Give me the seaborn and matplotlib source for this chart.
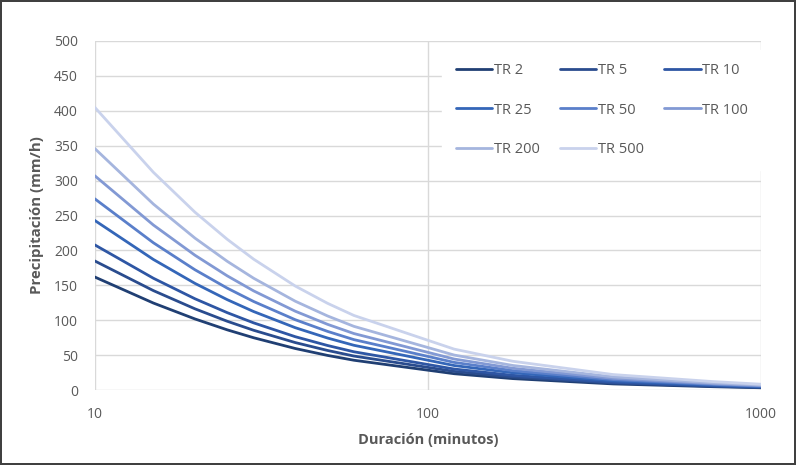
import numpy as np
import pandas as pd
import matplotlib
matplotlib.use("Agg")
import matplotlib.pyplot as plt
from matplotlib.ticker import FixedLocator, FixedFormatter, NullLocator
import seaborn as sns

# duraciones (minutos)
duracion = [10, 15, 20, 25, 30, 40, 50, 60, 120, 180, 360, 720, 1000]

# intensidades (mm/h) por periodo de retorno
tr2 = [162, 124.7, 101.9, 86.3, 75.0, 59.6, 49.7, 42.8, 23.5, 16.5, 8.9, 4.9, 3.4]
tr5 = [185, 142.5, 116.4, 98.6, 85.7, 68.1, 56.8, 48.8, 26.8, 18.9, 10.2, 5.6, 3.9]
tr10 = [208, 160.2, 130.8, 110.9, 96.3, 76.5, 63.9, 54.9, 30.2, 21.2, 11.4, 6.2, 4.4]
tr25 = [243, 187.1, 152.8, 129.5, 112.5, 89.4, 74.6, 64.2, 35.2, 24.8, 13.4, 7.3, 5.1]
tr50 = [274, 211.0, 172.3, 146.0, 126.9, 100.8, 84.1, 72.3, 39.7, 27.9, 15.1, 8.2, 5.8]
tr100 = [307, 236.4, 193.1, 163.6, 142.1, 113.0, 94.2, 81.0, 44.5, 31.3, 16.9, 9.2, 6.4]
tr200 = [346, 266.4, 217.6, 184.4, 160.2, 127.3, 106.2, 91.3, 50.2, 35.3, 19.0, 10.4, 7.3]
tr500 = [405, 311.9, 254.7, 215.9, 187.5, 149.0, 124.3, 106.9, 58.7, 41.3, 22.3, 12.2, 8.5]

series = ["TR 2", "TR 5", "TR 10", "TR 25", "TR 50", "TR 100", "TR 200", "TR 500"]
valores = [tr2, tr5, tr10, tr25, tr50, tr100, tr200, tr500]
colores = ["#203F73", "#2A4C8E", "#2E56A4", "#3466B8", "#5A7FCA",
           "#8299D4", "#A5B5DE", "#C9D2EC"]

df = pd.concat([pd.DataFrame({"Duracion": duracion, "Intensidad": v, "TR": s})
                for s, v in zip(series, valores)])

sns.set_style("white")
plt.rcParams["font.family"] = ["Open Sans", "DejaVu Sans"]

fig = plt.figure(figsize=(7.96, 4.65), dpi=100, edgecolor="#404040", linewidth=1.5)
ax = fig.add_axes([0.119, 0.161, 0.837, 0.751])

sns.lineplot(data=df, x="Duracion", y="Intensidad", hue="TR", palette=colores,
             linewidth=2, ax=ax, zorder=3)

ax.set_xscale("log")
ax.set_xlim(10, 1000)
ax.set_ylim(0, 500)
ax.xaxis.set_major_locator(FixedLocator([10, 100, 1000]))
ax.xaxis.set_major_formatter(FixedFormatter(["10", "100", "1000"]))
ax.xaxis.set_minor_locator(NullLocator())
ax.set_yticks(np.arange(0, 501, 50))

ax.grid(True, color="#D9D9D9", linewidth=1)
for sp in ax.spines.values():
    sp.set_visible(False)
ax.tick_params(length=0, labelsize=10, colors="#595959")
ax.tick_params(axis="x", pad=12)
ax.tick_params(axis="y", pad=12)

ax.set_xlabel("Duración (minutos)", fontsize=10.5, fontweight="bold", color="#595959", labelpad=8)
ax.set_ylabel("Precipitación (mm/h)", fontsize=10.8, fontweight="bold", color="#595959", labelpad=7)

# leyenda por filas (Excel): reordenar para el llenado por columnas
handles, labels = ax.get_legend_handles_labels()
orden = [0, 3, 6, 1, 4, 7, 2, 5]
leg = ax.legend([handles[i] for i in orden], [labels[i] for i in orden],
                loc="upper left", bbox_to_anchor=(0.511, 0.995), ncol=3, frameon=True,
                fontsize=10.5, handlelength=2.5, handletextpad=0.1, columnspacing=1.4,
                labelspacing=1.68, borderpad=0.9, fancybox=False)
leg.get_frame().set_edgecolor("white")
leg.get_frame().set_facecolor("white")
leg.get_frame().set_alpha(1)
for t in leg.get_texts():
    t.set_color("#595959")

fig.savefig("out.png", dpi=100, edgecolor=fig.get_edgecolor())
